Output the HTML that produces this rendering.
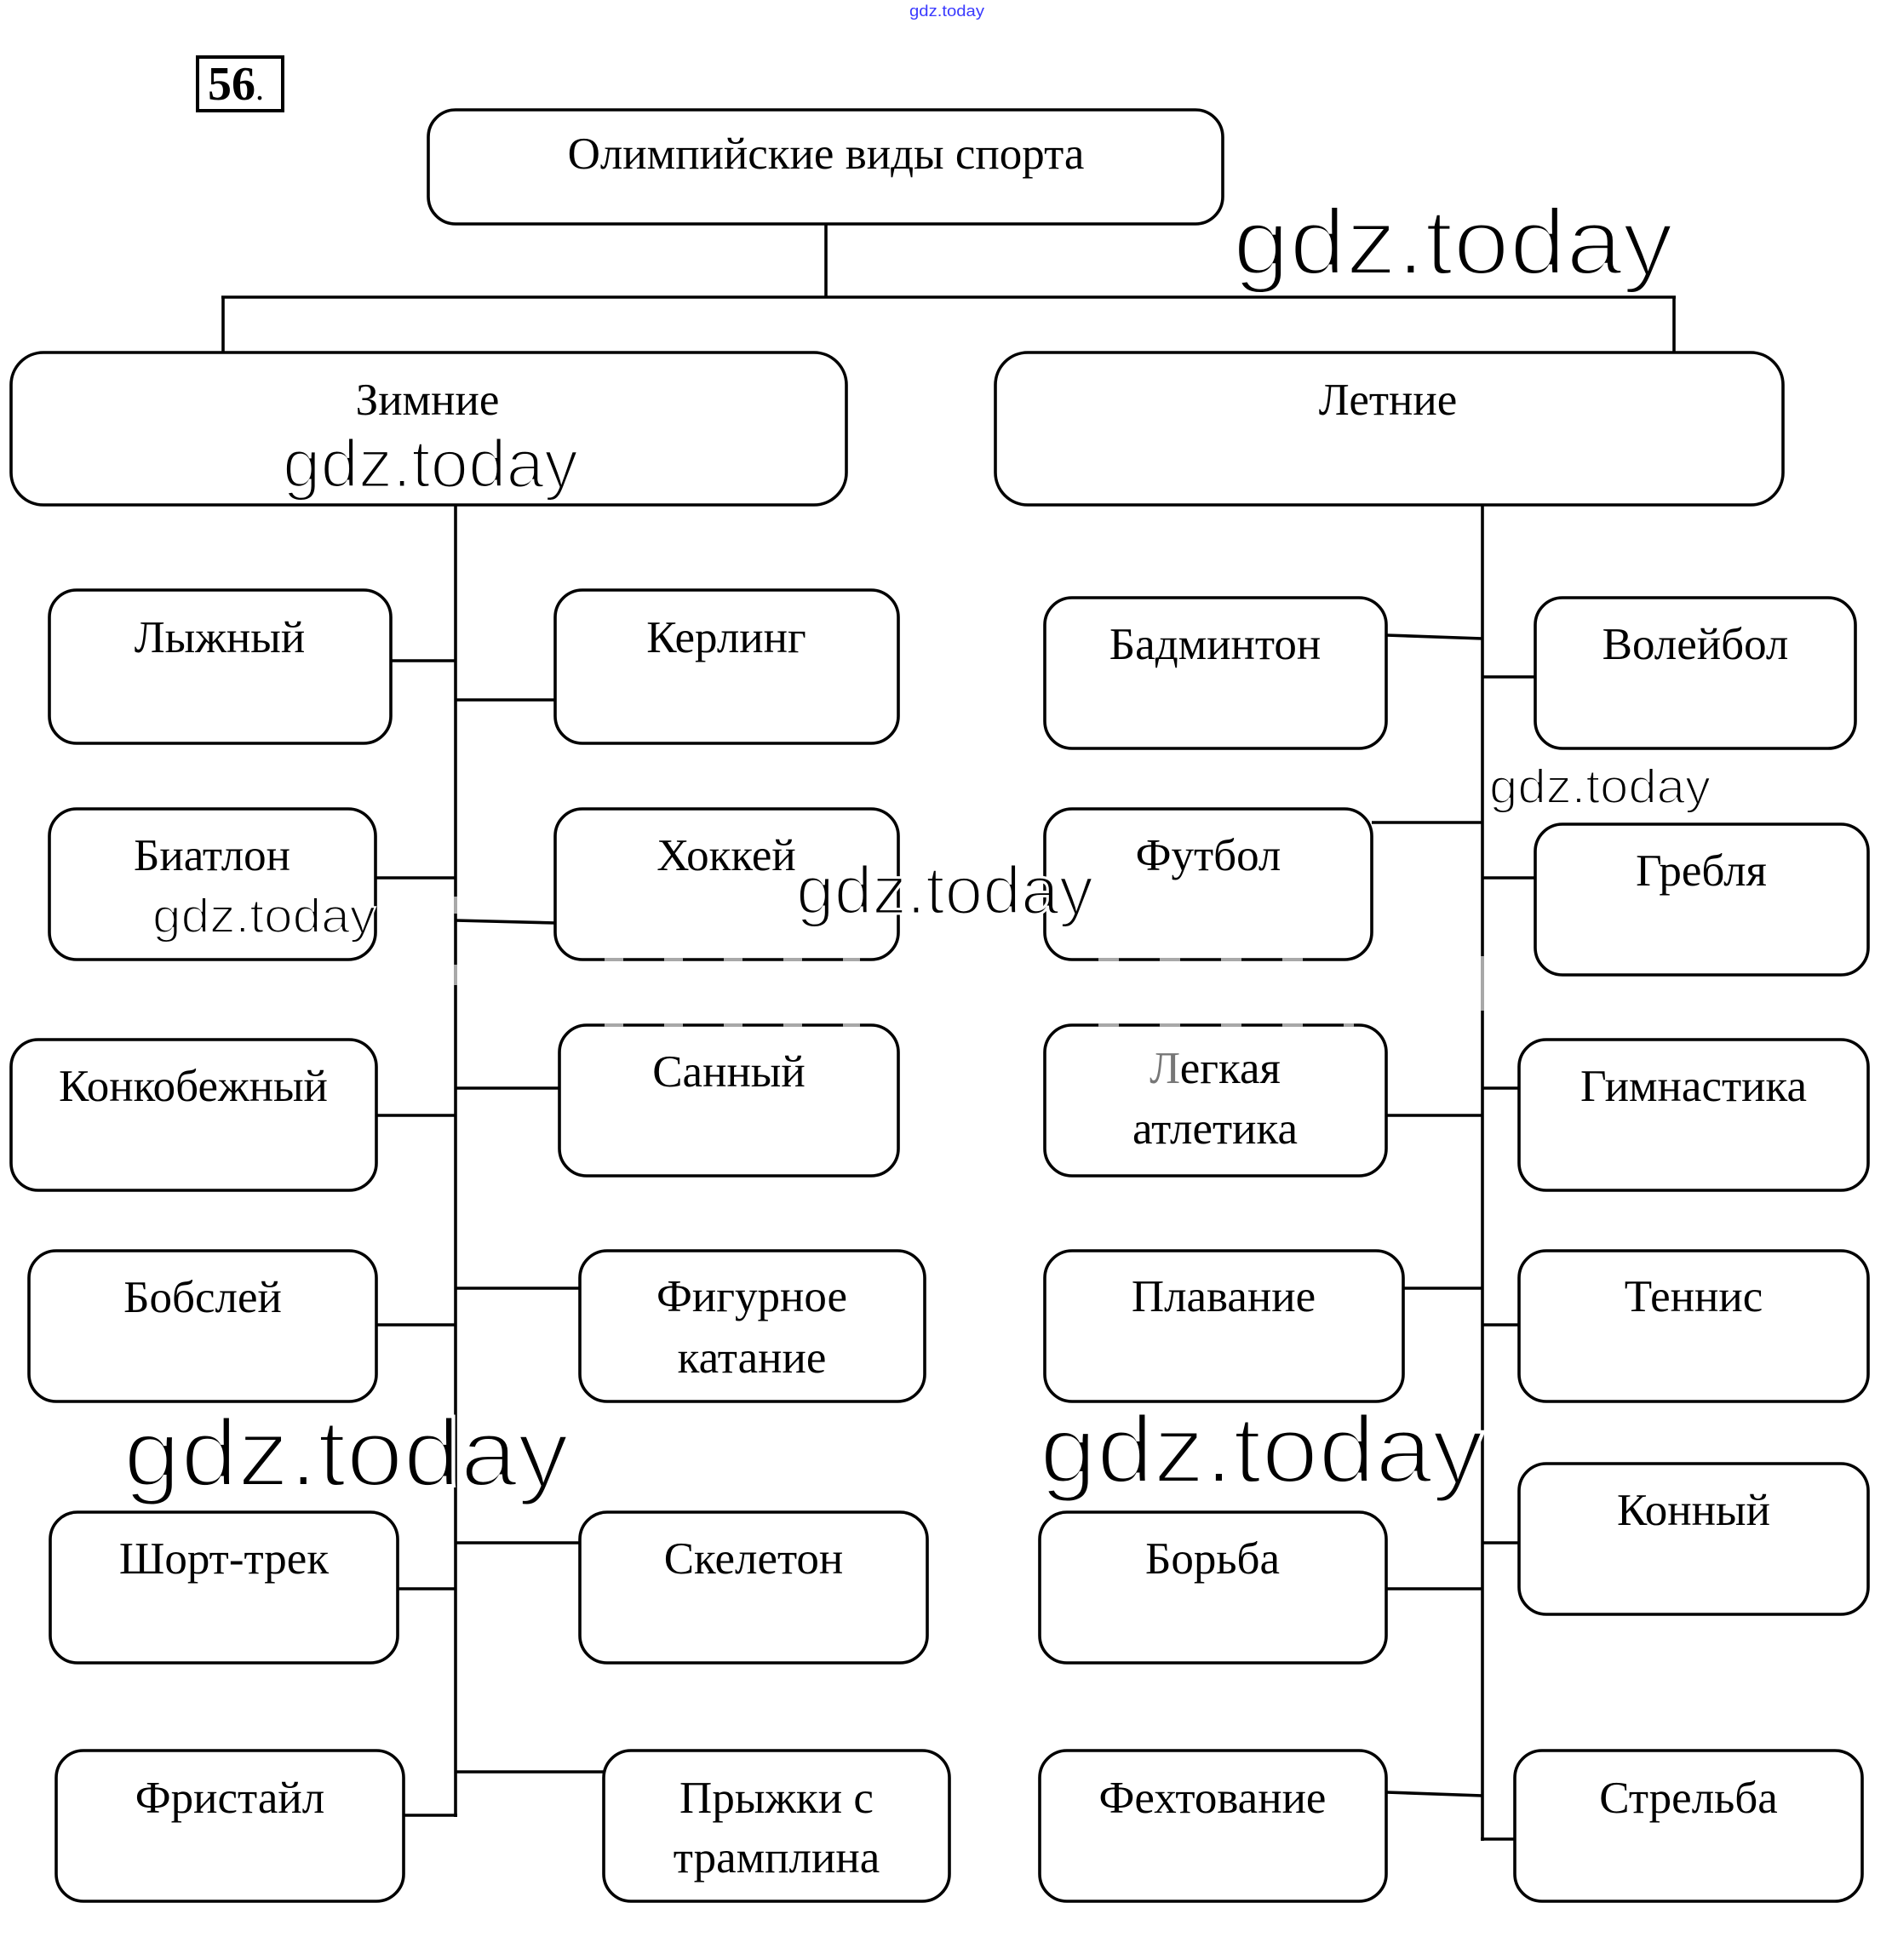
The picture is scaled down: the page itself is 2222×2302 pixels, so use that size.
<!DOCTYPE html>
<html>
<head>
<meta charset="utf-8">
<style>
html,body{margin:0;padding:0;background:#fff;}
svg{display:block;}
.lbl{font-family:"Liberation Serif","Noto Serif CJK SC",serif;font-size:53px;fill:#000;text-anchor:middle;}
.wm{font-family:"Liberation Sans","DejaVu Sans",sans-serif;fill:#000;stroke:#fff;}
</style>
</head>
<body>
<svg width="2222" height="2302" viewBox="0 0 2222 2302" xmlns="http://www.w3.org/2000/svg">
<rect x="0" y="0" width="2222" height="2302" fill="#fff"/>

<!-- tiny top watermark -->
<text x="1068" y="19" font-family="Liberation Sans, sans-serif" font-size="18" textLength="88" lengthAdjust="spacingAndGlyphs" fill="#3a3aff">gdz.today</text>

<!-- 56. -->
<rect x="232" y="67" width="100" height="63" fill="none" stroke="#000" stroke-width="4"/>
<text x="244" y="117" font-family="Liberation Serif, serif" font-size="56" font-weight="bold">56<tspan font-weight="normal" font-size="40">.</tspan></text>

<g fill="none" stroke="#000" stroke-width="3.6" stroke-linecap="butt">
<!-- top hierarchy -->
<rect x="503" y="129" width="933" height="134" rx="32" ry="32"/>
<line x1="970" y1="263" x2="970" y2="349"/>
<line x1="260" y1="349" x2="1968" y2="349"/>
<line x1="262" y1="349" x2="262" y2="414"/>
<line x1="1966" y1="349" x2="1966" y2="414"/>
<rect x="13" y="414" width="981" height="179" rx="38" ry="38"/>
<rect x="1169" y="414" width="925" height="179" rx="38" ry="38"/>

<!-- trunks -->
<line x1="535" y1="593" x2="535" y2="2134"/>
<line x1="1741" y1="593" x2="1741" y2="2162"/>

<!-- winter left boxes -->
<rect x="58" y="693" width="401" height="180" rx="32" ry="32"/>
<rect x="58" y="950" width="383" height="177" rx="32" ry="32"/>
<rect x="13" y="1221" width="429" height="177" rx="32" ry="32"/>
<rect x="34" y="1469" width="408" height="177" rx="32" ry="32"/>
<rect x="59" y="1776" width="408" height="177" rx="32" ry="32"/>
<rect x="66" y="2056" width="408" height="177" rx="32" ry="32"/>
<!-- winter right boxes -->
<rect x="652" y="693" width="403" height="180" rx="32" ry="32"/>
<rect x="652" y="950" width="403" height="177" rx="32" ry="32"/>
<rect x="657" y="1204" width="398" height="177" rx="32" ry="32"/>
<rect x="681" y="1469" width="405" height="177" rx="32" ry="32"/>
<rect x="681" y="1776" width="408" height="177" rx="32" ry="32"/>
<rect x="709" y="2056" width="406" height="177" rx="32" ry="32"/>
<!-- summer left boxes -->
<rect x="1227" y="702" width="401" height="177" rx="32" ry="32"/>
<rect x="1227" y="950" width="384" height="177" rx="32" ry="32"/>
<rect x="1227" y="1204" width="401" height="177" rx="32" ry="32"/>
<rect x="1227" y="1469" width="421" height="177" rx="32" ry="32"/>
<rect x="1221" y="1776" width="407" height="177" rx="32" ry="32"/>
<rect x="1221" y="2056" width="407" height="177" rx="32" ry="32"/>
<!-- summer right boxes -->
<rect x="1803" y="702" width="376" height="177" rx="32" ry="32"/>
<rect x="1803" y="968" width="391" height="177" rx="32" ry="32"/>
<rect x="1784" y="1221" width="410" height="177" rx="32" ry="32"/>
<rect x="1784" y="1469" width="410" height="177" rx="32" ry="32"/>
<rect x="1784" y="1719" width="410" height="177" rx="32" ry="32"/>
<rect x="1779" y="2056" width="408" height="177" rx="32" ry="32"/>

<!-- winter connectors -->
<line x1="459" y1="776" x2="535" y2="776"/>
<line x1="535" y1="822" x2="652" y2="822"/>
<line x1="441" y1="1031" x2="535" y2="1031"/>
<line x1="535" y1="1081" x2="652" y2="1084"/>
<line x1="442" y1="1310" x2="535" y2="1310"/>
<line x1="535" y1="1278" x2="657" y2="1278"/>
<line x1="442" y1="1556" x2="535" y2="1556"/>
<line x1="535" y1="1513" x2="681" y2="1513"/>
<line x1="467" y1="1866" x2="535" y2="1866"/>
<line x1="535" y1="1812" x2="681" y2="1812"/>
<line x1="474" y1="2132" x2="537" y2="2132"/>
<line x1="535" y1="2081" x2="709" y2="2081"/>

<!-- summer connectors -->
<line x1="1628" y1="746" x2="1741" y2="750"/>
<line x1="1741" y1="795" x2="1803" y2="795"/>
<line x1="1611" y1="966" x2="1741" y2="966"/>
<line x1="1741" y1="1031" x2="1803" y2="1031"/>
<line x1="1628" y1="1310" x2="1741" y2="1310"/>
<line x1="1741" y1="1278" x2="1784" y2="1278"/>
<line x1="1648" y1="1513" x2="1741" y2="1513"/>
<line x1="1741" y1="1556" x2="1784" y2="1556"/>
<line x1="1628" y1="1866" x2="1741" y2="1866"/>
<line x1="1741" y1="1812" x2="1784" y2="1812"/>
<line x1="1628" y1="2105" x2="1741" y2="2109"/>
<line x1="1739" y1="2160" x2="1779" y2="2160"/>
</g>

<!-- gray artifact dashes -->
<g fill="none" stroke="#a8a8a8" stroke-width="4">
<line x1="700" y1="1127" x2="1010" y2="1127" stroke-dasharray="22 48" stroke-dashoffset="-10"/>
<line x1="700" y1="1204" x2="1010" y2="1204" stroke-dasharray="22 48" stroke-dashoffset="-10"/>
<line x1="1275" y1="1127" x2="1570" y2="1127" stroke-dasharray="24 48" stroke-dashoffset="-15"/>
<line x1="1275" y1="1204" x2="1590" y2="1204" stroke-dasharray="24 48" stroke-dashoffset="-15"/>
<line x1="535" y1="1053" x2="535" y2="1073"/>
<line x1="535" y1="1133" x2="535" y2="1157"/>
<line x1="1741" y1="1123" x2="1741" y2="1187"/>
</g>

<!-- labels -->
<text class="lbl" x="970" y="198">Олимпийские виды спорта</text>
<text class="lbl" x="502" y="487">Зимние</text>
<text class="lbl" x="1630" y="487">Летние</text>

<text class="lbl" x="258" y="766">Лыжный</text>
<text class="lbl" x="249" y="1022">Биатлон</text>
<text class="lbl" x="227" y="1293">Конкобежный</text>
<text class="lbl" x="238" y="1541">Бобслей</text>
<text class="lbl" x="263" y="1848">Шорт-трек</text>
<text class="lbl" x="270" y="2129">Фристайл</text>

<text class="lbl" x="853" y="766">Керлинг</text>
<text class="lbl" x="853" y="1022">Хоккей</text>
<text class="lbl" x="856" y="1276">Санный</text>
<text class="lbl" x="883" y="1540">Фигурное</text>
<text class="lbl" x="883" y="1612">катание</text>
<text class="lbl" x="885" y="1848">Скелетон</text>
<text class="lbl" x="912" y="2129">Прыжки с</text>
<text class="lbl" x="912" y="2199">трамплина</text>

<text class="lbl" x="1427" y="774">Бадминтон</text>
<text class="lbl" x="1419" y="1022">Футбол</text>
<text class="lbl" x="1427" y="1272"><tspan fill="#777">Л</tspan>егкая</text>
<text class="lbl" x="1427" y="1343">атлетика</text>
<text class="lbl" x="1437" y="1540">Плавание</text>
<text class="lbl" x="1424" y="1848">Борьба</text>
<text class="lbl" x="1424" y="2129">Фехтование</text>

<text class="lbl" x="1991" y="774">Волейбол</text>
<text class="lbl" x="1998" y="1040">Гребля</text>
<text class="lbl" x="1989" y="1293">Гимнастика</text>
<text class="lbl" x="1989" y="1540">Теннис</text>
<text class="lbl" x="1989" y="1791">Конный</text>
<text class="lbl" x="1983" y="2129">Стрельба</text>

<!-- watermarks -->
<text class="wm" x="1448" y="322" font-size="110" stroke-width="4" textLength="517" lengthAdjust="spacingAndGlyphs">gdz.today</text>
<text class="wm" x="332" y="572" font-size="80" stroke-width="3" textLength="347" lengthAdjust="spacingAndGlyphs">gdz.today</text>
<text class="wm" x="179" y="1095" font-size="57" stroke-width="2" textLength="262" lengthAdjust="spacingAndGlyphs">gdz.today</text>
<text class="wm" x="935" y="1073" font-size="80" stroke-width="3" textLength="349" lengthAdjust="spacingAndGlyphs">gdz.today</text>
<text class="wm" x="1749" y="943" font-size="57" stroke-width="2" textLength="260" lengthAdjust="spacingAndGlyphs">gdz.today</text>
<text class="wm" x="145" y="1745" font-size="112" stroke-width="4" textLength="523" lengthAdjust="spacingAndGlyphs">gdz.today</text>
<text class="wm" x="1221" y="1741" font-size="112" stroke-width="4" textLength="521" lengthAdjust="spacingAndGlyphs">gdz.today</text>
</svg>
</body>
</html>
